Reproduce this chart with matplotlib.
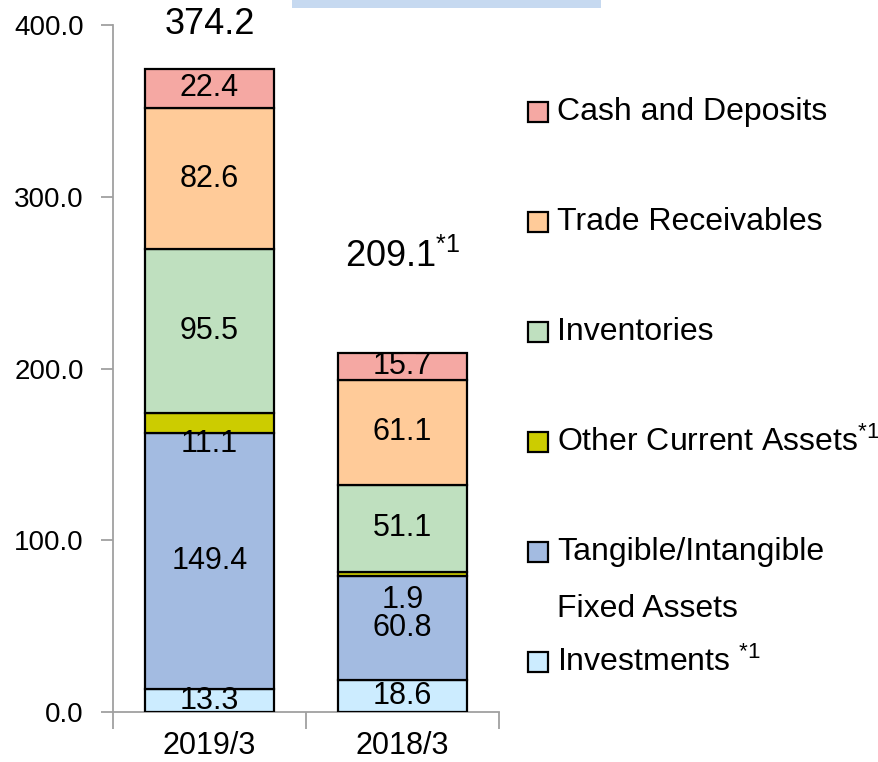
import numpy as np
import matplotlib.pyplot as plt
from matplotlib.patches import Rectangle
from matplotlib.ticker import MultipleLocator, FixedLocator

plt.rcParams['font.family'] = ['Liberation Sans', 'DejaVu Sans']
plt.rcParams['mathtext.fontset'] = 'custom'
plt.rcParams['mathtext.rm'] = 'Liberation Sans'
plt.rcParams['mathtext.default'] = 'regular'

# data (bottom to top)
periods = ['2019/3', '2018/3']
series = ['Investments', 'Tangible/Intangible\nFixed Assets', 'Other Current Assets',
          'Inventories', 'Trade Receivables', 'Cash and Deposits']
investments = [13.3, 18.6]
fixed_assets = [149.4, 60.8]
other_current = [11.1, 1.9]
inventories = [95.5, 51.1]
receivables = [82.6, 61.1]
cash = [22.4, 15.7]
totals = ['374.2', '209.1$^{*1}$']
legend_labels = ['Investments $^{*1}$', 'Tangible/Intangible', 'Other Current Assets$^{*1}$',
                 'Inventories', 'Trade Receivables', 'Cash and Deposits']
colors = ['#CCECFF', '#A3BBE1', '#CCCC00', '#BFE0BF', '#FFCB99', '#F5A8A3']

values = [investments, fixed_assets, other_current, inventories, receivables, cash]

fig = plt.figure(figsize=(8.79, 7.62), dpi=100)
ax = fig.add_axes([113/879, 50/762, 386/879, 687/762])

x = np.arange(len(periods))
bottom = np.zeros(len(periods))
for k, (vals, col) in enumerate(zip(values, colors)):
    vals = np.array(vals)
    ax.bar(x, vals, 0.67, bottom=bottom, color=col, edgecolor='black', linewidth=1.6, zorder=3)
    for i, v in enumerate(vals):
        if k == 2:
            # small segment: label sits just below it
            dy = [-6.5, -14][i]
            y = bottom[i] + dy
        else:
            y = bottom[i] + v / 2
        ax.text(x[i], y, f'{v:.1f}', ha='center', va='center', fontsize=22, zorder=4, clip_on=True)
    bottom += vals

for i, t in enumerate(totals):
    ax.text(x[i], bottom[i] + [26, 56][i], t, ha='center', va='center', fontsize=26, clip_on=False)

ax.set_xlim(-0.5, 1.5)
ax.set_ylim(0, 400)
ax.yaxis.set_major_locator(MultipleLocator(100))
ax.yaxis.set_major_formatter(lambda v, p: f'{v:.1f}')
ax.set_xticks(x)
ax.set_xticklabels(periods, fontsize=22)
ax.xaxis.set_minor_locator(FixedLocator([-0.5, 0.5, 1.5]))
ax.tick_params(axis='x', which='major', length=0, pad=14)
ax.tick_params(axis='x', which='minor', length=12, width=1.3, color='#A0A0A0')
ax.tick_params(axis='y', labelsize=20, length=9, width=1.3, color='#A0A0A0', pad=12)
for s in ['top', 'right']:
    ax.spines[s].set_visible(False)
for s in ['left', 'bottom']:
    ax.spines[s].set_color('#A0A0A0')
    ax.spines[s].set_linewidth(1.3)

# legend drawn by hand on the right
W, H = 879, 762
for k in range(len(series)):
    row = len(series) - 1 - k
    yc = 112 + 110 * row
    fig.add_artist(Rectangle((528/W, (H - yc - 10)/H), 20/W, 20/H, transform=fig.transFigure,
                             facecolor=colors[k], edgecolor='black', linewidth=1.6))
    fig.text(557/W, (H - yc)/H, legend_labels[k], fontsize=23, va='center', ha='left')
fig.text(557/W, (H - 609)/H, 'Fixed Assets', fontsize=23, va='center', ha='left')

# banner strip at the top
fig.add_artist(Rectangle((292/W, (H - 8)/H), 309/W, 8/H, transform=fig.transFigure,
                         facecolor='#C6D9F0', edgecolor='none'))

fig.savefig('out.png', dpi=100)
